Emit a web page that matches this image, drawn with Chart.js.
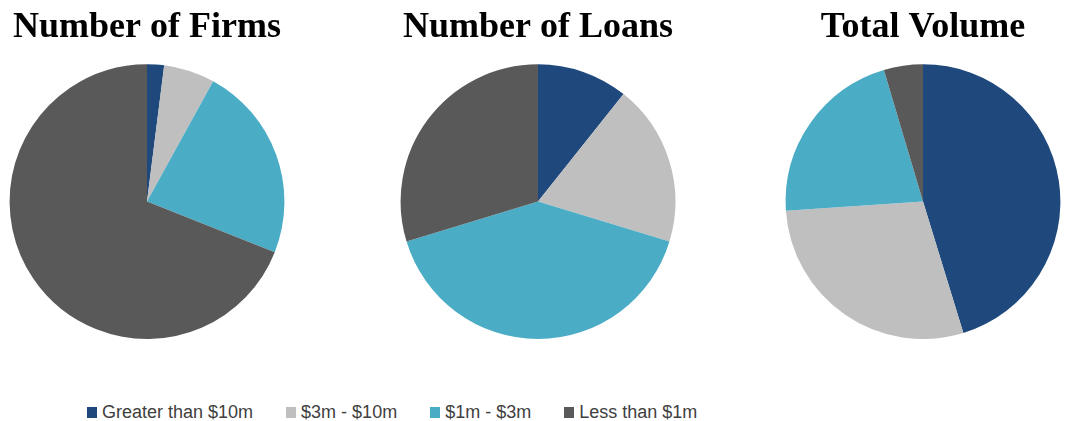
<!DOCTYPE html>
<html>
<head>
<meta charset="utf-8">
<script src="https://cdn.jsdelivr.net/npm/chart.js@4/dist/chart.umd.min.js"></script>
<style>
    body { margin: 0; background: #fff; }
    #wrap { position: relative; width: 1065px; height: 421px; overflow: hidden; }
    .pie { position: absolute; top: 0; }
    #legend { position: absolute; left: 87px; top: 402px; display: flex; align-items: center;
              font-family: "Liberation Sans", Arial, sans-serif; font-size: 18px; color: #404040; white-space: nowrap; }
    #legend .item { display: flex; align-items: center; margin-right: 33px; }
    #legend .box { width: 10px; height: 11px; margin-right: 5px; }
</style>
</head>
<body>
<div id="wrap">
    <canvas id="c0" class="pie" width="290" height="339"></canvas>
    <canvas id="c1" class="pie" width="290" height="339"></canvas>
    <canvas id="c2" class="pie" width="290" height="339"></canvas>
    <div id="legend"></div>
</div>
<script>
const categories = ['Greater than $10m', '$3m - $10m', '$1m - $3m', 'Less than $1m'];
const colors = ['#1F497D', '#BFBFBF', '#4BACC6', '#595959'];
const titles = ['Number of Firms', 'Number of Loans', 'Total Volume'];
// shares in percent
const firms = [2, 6, 23, 69];
const loans = [10.7, 19, 40.6, 29.7];
const volume = [45.3, 28.7, 21.5, 4.6];
const centersX = [147, 538, 923];

const series = [firms, loans, volume];

series.forEach(function(values, i) {
    let canvas = document.getElementById('c' + i);
    canvas.style.left = (centersX[i] - 145) + 'px';
    new Chart(canvas.getContext('2d'), {
        type: 'pie',
        data: {
            labels: categories,
            datasets: [{
                data: values,
                backgroundColor: colors,
                borderWidth: 0
            }]
        },
        options: {
            responsive: false,
            animation: false,
            devicePixelRatio: 1,
            events: [],
            plugins: {
                legend: { display: false },
                tooltip: { enabled: false },
                title: {
                    display: true,
                    text: titles[i],
                    color: '#000',
                    font: { family: '"Liberation Serif", "Times New Roman", serif', size: 36, weight: 'bold', lineHeight: 1.2 },
                    padding: { top: 6, bottom: 15 }
                }
            }
        }
    });
});

// shared legend under the pies
let legend = document.getElementById('legend');
categories.forEach(function(label, i) {
    let item = document.createElement('div');
    item.className = 'item';
    let box = document.createElement('span');
    box.className = 'box';
    box.style.background = colors[i];
    item.appendChild(box);
    item.appendChild(document.createTextNode(label));
    legend.appendChild(item);
});
</script>
</body>
</html>
